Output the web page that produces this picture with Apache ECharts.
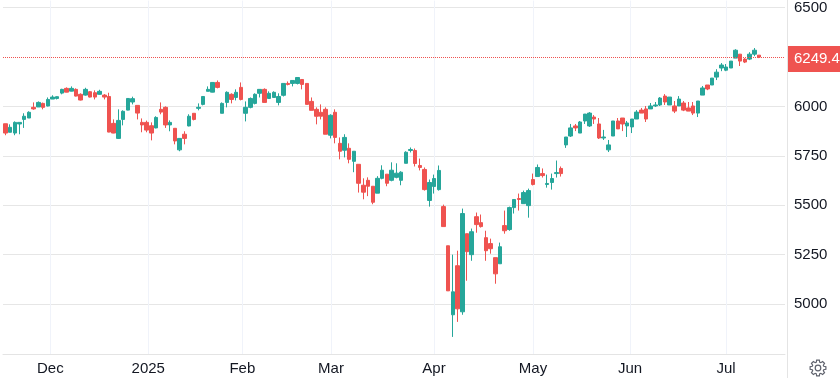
<!DOCTYPE html>
<html>
<head>
<meta charset="utf-8">
<style>
  html, body { margin: 0; padding: 0; background: #fff; }
  #chart { width: 840px; height: 378px; }
</style>
</head>
<body>
<div id="chart"></div>
<script src="https://cdn.jsdelivr.net/npm/echarts@6/dist/echarts.min.js"></script>
<script>
const upColor = '#26a69a';
const downColor = '#ef5350';

const opens = [
  5912,5869,5865,5911,5934,5941,5995,5997,6015,6002,6037,6040,6067,6091,6077,6086,6061,6057,6074,6069,
  6061,6057,6050,5914,5838,5934,5981,6022,6005,5919,5919,5902,5891,5985,5995,5906,5889,5780,5859,5901,
  5965,5990,6010,6076,6072,6121,5965,6020,6061,6045,6096,5965,5995,6015,6066,6086,6040,6045,6020,6056,
  6116,6116,6116,6136,6116,6025,5985,5970,5985,5854,5970,5813,5778,5788,5722,5707,5601,5626,5596,5561,
  5636,5657,5626,5641,5626,5712,5777,5777,5701,5681,5524,5595,5579,5493,5295,4946,5194,4961,5356,5250,
  5442,5412,5336,5306,5235,5204,5397,5377,5488,5534,5508,5498,5630,5645,5660,5605,5615,5660,5686,5805,
  5850,5901,5865,5926,5901,5946,5911,5840,5780,5850,5926,5941,5901,5896,5936,5981,5987,5987,6002,6007,
  6052,6007,6002,6002,6017,5992,6002,5966,6057,6108,6108,6148,6194,6183,6194,6244,6264,6239,6239,6264,
  6259
];
const closes = [
  5865,5894,5919,5919,5950,5970,5987,6020,5995,6035,6047,6049,6086,6072,6091,6052,6032,6086,6047,6047,
  6076,6047,5870,5865,5929,5975,6040,6039,5966,5906,5880,5865,5944,5971,5906,5919,5825,5838,5838,5950,
  5934,5995,6050,6086,6121,6096,6015,6071,6035,6071,6035,5995,6040,6061,6086,6020,6066,6071,6050,6116,
  6111,6131,6146,6111,6010,5980,5950,5950,5859,5955,5843,5773,5843,5732,5773,5611,5566,5596,5515,5636,
  5677,5611,5677,5662,5667,5768,5782,5711,5691,5579,5615,5635,5676,5392,5067,5062,4976,5458,5265,5366,
  5402,5392,5270,5280,5153,5290,5371,5488,5529,5529,5564,5574,5605,5691,5650,5610,5635,5665,5660,5845,
  5891,5891,5921,5961,5966,5936,5840,5845,5805,5926,5886,5911,5916,5936,5971,5966,5936,6002,6007,6042,
  6022,6047,5976,6037,5981,5976,5966,6027,6093,6088,6143,6173,6209,6199,6229,6284,6229,6224,6264,6284,
  6249.4
];
const lows = [
  5854,5869,5854,5859,5891,5941,5983,5997,5985,6000,6037,6035,6061,6071,6076,6050,6030,6054,6045,6035,
  6059,6035,5869,5864,5835,5904,5980,6010,5934,5869,5869,5828,5889,5960,5891,5874,5808,5773,5808,5899,
  5929,5980,6005,6076,6071,6091,5965,5995,6015,6030,6030,5924,5990,6010,6045,6020,6040,6045,6005,6050,
  6106,6101,6111,6086,6010,5980,5909,5934,5859,5838,5813,5732,5742,5712,5667,5564,5530,5546,5505,5561,
  5631,5596,5621,5636,5601,5712,5767,5696,5676,5574,5493,5559,5574,5392,5067,4834,4910,4946,5118,5219,
  5361,5387,5219,5255,5103,5204,5356,5371,5458,5473,5508,5437,5600,5645,5640,5589,5579,5640,5645,5790,
  5845,5875,5865,5911,5896,5911,5835,5830,5769,5850,5886,5875,5845,5865,5936,5966,5921,5987,5997,6002,
  6007,6007,5966,6002,5976,5976,5956,5946,6057,6082,6108,6133,6178,6178,6194,6244,6204,6219,6234,6254,
  6244
];
const highs = [
  5912,5909,5924,5919,5965,5975,6020,6025,6019,6045,6056,6050,6089,6096,6101,6091,6066,6094,6077,6081,
  6084,6062,6069,5934,5985,5980,6040,6049,6005,5939,5928,5919,5950,6020,6000,5929,5889,5838,5874,5960,
  5965,6015,6050,6101,6121,6131,6020,6076,6066,6086,6121,6025,6045,6066,6086,6091,6076,6076,6066,6116,
  6126,6131,6146,6136,6116,6045,5995,6010,5995,5960,5985,5843,5859,5813,5773,5707,5636,5641,5596,5647,
  5702,5657,5717,5712,5672,5773,5792,5787,5736,5691,5630,5655,5701,5503,5295,5250,5270,5483,5356,5382,
  5463,5453,5371,5331,5235,5311,5473,5493,5529,5559,5574,5584,5660,5706,5686,5655,5660,5726,5696,5845,
  5911,5911,5926,5961,5971,5956,5941,5881,5830,5926,5941,5941,5926,5936,5981,5992,6002,6017,6022,6047,
  6062,6047,6027,6052,6027,6022,6022,6027,6103,6108,6143,6188,6219,6214,6229,6289,6264,6244,6274,6295,
  6259
];

const lastPrice = 6249.4;
const yTicks = [5000, 5250, 5500, 5750, 6000, 6500];
const monthLabels = ['Dec', '2025', 'Feb', 'Mar', 'Apr', 'May', 'Jun', 'Jul'];
// month starts, in bars from the left edge of the plot
const monthTicks = [10.04, 30.84, 50.8, 69.63, 91.49, 112.5, 133.1, 153.5];

const barSlots = 166;
const candles = opens.map((o, i) => [o, closes[i], lows[i], highs[i]]);
const slots = Array.from({ length: barSlots }, (_, i) => i);

// settings icon, 8 teeth around (cx, cy)
const gearPoints = (cx, cy, outer, inner) => {
  const pts = [];
  for (let i = 0; i < 8; i++) {
    const a = (i * Math.PI) / 4;
    [[-0.3, inner], [-0.17, outer], [0.17, outer], [0.3, inner]].forEach(([d, r]) => {
      pts.push([cx + r * Math.cos(a + d), cy + r * Math.sin(a + d)]);
    });
  }
  return pts;
};

const textStyle = { fontFamily: '"Liberation Sans", Arial, sans-serif', fontSize: 15, color: '#131722' };

const option = {
  backgroundColor: '#fff',
  animation: false,
  grid: { left: 3, width: 782, top: 0, height: 354 },
  xAxis: [
    {
      type: 'category',
      data: slots,
      boundaryGap: true,
      axisLine: { show: false },
      axisTick: { show: false },
      axisLabel: { show: false },
      splitLine: { show: false }
    },
    {
      type: 'value',
      position: 'bottom',
      min: 0,
      max: barSlots,
      axisLine: { show: true, lineStyle: { color: '#e4e4e4', width: 1 } },
      axisTick: { show: false, customValues: monthTicks },
      axisLabel: {
        customValues: monthTicks,
        margin: 7,
        formatter: v => monthLabels[monthTicks.indexOf(v)],
        ...textStyle
      },
      splitLine: { show: true, lineStyle: { color: '#f0f3fa', width: 1 } }
    }
  ],
  yAxis: {
    type: 'value',
    position: 'right',
    min: 4747.6,
    max: 6535,
    axisLine: { show: false },
    axisTick: { show: false, customValues: yTicks },
    axisLabel: { customValues: yTicks, margin: 9, padding: [0, 0, 2, 0], formatter: v => String(v), ...textStyle },
    splitLine: { show: true, lineStyle: { color: '#e6e6e6', width: 1 } }
  },
  series: [
    {
      type: 'candlestick',
      xAxisIndex: 0,
      barWidth: 4,
      z: 3,
      itemStyle: {
        color: upColor,
        color0: downColor,
        borderColor: upColor,
        borderColor0: downColor,
        borderWidth: 1
      },
      data: candles,
      markLine: {
        silent: true,
        symbol: 'none',
        animation: false,
        lineStyle: { color: downColor, type: 'dotted', width: 1 },
        label: {
          show: true,
          position: 'end',
          distance: 3,
          offset: [0, 2],
          formatter: String(lastPrice),
          backgroundColor: downColor,
          color: '#fff',
          fontFamily: textStyle.fontFamily,
          fontSize: 15,
          padding: [6, 6, 5, 6]
        },
        data: [{ yAxis: lastPrice }]
      }
    }
  ],
  graphic: [
    {
      type: 'line',
      shape: { x1: 787.5, y1: 0, x2: 787.5, y2: 378 },
      style: { stroke: '#e4e4e4', lineWidth: 1 },
      silent: true
    },
    {
      type: 'polygon',
      shape: { points: gearPoints(818, 368, 8, 6) },
      style: { fill: 'none', stroke: '#5f626d', lineWidth: 1.2 },
      silent: true
    },
    {
      type: 'circle',
      shape: { cx: 818, cy: 368, r: 2.8 },
      style: { fill: 'none', stroke: '#5f626d', lineWidth: 1.2 },
      silent: true
    }
  ]
};

const chart = echarts.init(document.getElementById('chart'));
chart.setOption(option);
</script>
</body>
</html>
